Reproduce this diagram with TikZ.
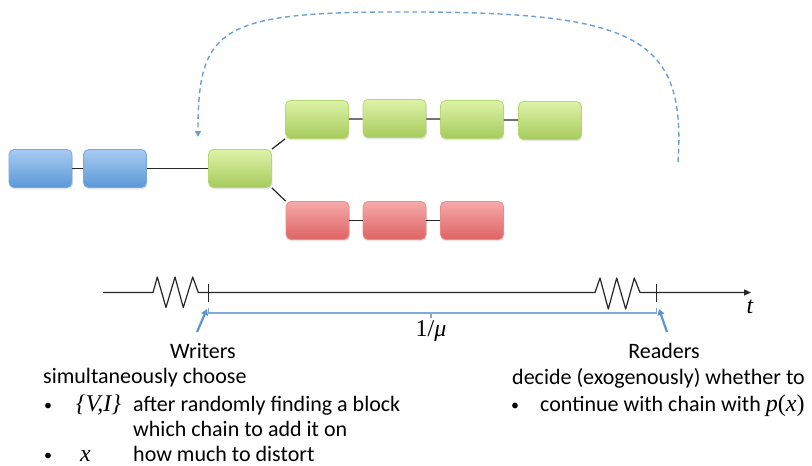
\documentclass[tikz,border=0pt]{standalone}
\usepackage{fontspec}
\setmainfont{Carlito}
\newfontfamily\mathlike{Liberation Serif}
\newcommand{\mvar}[1]{{\mathlike\itshape #1}}
\newcommand{\mbig}{\fontsize{24}{25}\selectfont}
\newcommand{\smallbullet}{{\fontsize{16}{16}\selectfont •}}
\usetikzlibrary{arrows.meta,shadows}

% block fills: top / bottom of the gradient and the rim
\definecolor{blTop}{HTML}{A8CBF2}
\definecolor{blBot}{HTML}{5B98D6}
\definecolor{blEdge}{HTML}{78A8DE}
\definecolor{grTop}{HTML}{DDF3A8}
\definecolor{grBot}{HTML}{A6CA5C}
\definecolor{grEdge}{HTML}{B8D672}
\definecolor{rdTop}{HTML}{F6AAAA}
\definecolor{rdBot}{HTML}{DE6363}
\definecolor{rdEdge}{HTML}{E88A8A}
\definecolor{loopBlue}{HTML}{6E9FD3}
\definecolor{spanBlue}{HTML}{7FAADB}
\definecolor{ptrBlue}{HTML}{5E93CF}

\begin{document}
\begin{tikzpicture}[x=1pt,y=-1pt,
  font=\fontsize{22}{25}\selectfont,
  block/.style={rounded corners=5pt, minimum width=63pt, minimum height=38pt,
    inner sep=0pt, draw=#1Edge, line width=0.8pt,
    top color=#1Top, bottom color=#1Bot,
    drop shadow={opacity=0.2, shadow xshift=0.8pt, shadow yshift=-1.8pt}},
  link/.style={draw=black!85, line width=1.2pt},
  axis/.style={draw=black!85, line width=1.2pt, line join=round},
  span/.style={draw=spanBlue, line width=1.4pt},
  pointer/.style={draw=ptrBlue, line width=2.2pt,
    -{Triangle[length=6pt,width=7pt]}},
  backloop/.style={draw=loopBlue, line width=1.4pt, dash pattern=on 5pt off 3.5pt,
    -{Triangle[length=6pt,width=6pt]}},
  txt/.style={inner sep=0pt, anchor=base west},
  ctxt/.style={inner sep=0pt, anchor=base}]

\useasboundingbox (0,0) rectangle (812,466);

% ---- blocks ----
\node[block=bl] (b1) at (40.5,168.5) {};
\node[block=bl] (b2) at (115,168.5) {};
\node[block=gr] (g0) at (240,168.5) {};
\node[block=gr] (g1) at (317,119.5) {};
\node[block=gr] (g2) at (394.5,118.5) {};
\node[block=gr] (g3) at (472,119.5) {};
\node[block=gr] (g4) at (550,120.5) {};
\node[block=rd] (r1) at (317.5,220.5) {};
\node[block=rd] (r2) at (394.5,220.5) {};
\node[block=rd] (r3) at (472,220.5) {};

% ---- chain links ----
\draw[link] (b1) -- (b2);
\draw[link] (b2) -- (g0);
\draw[link] (g0.north east) -- (g1.south west);
\draw[link] (g0.south east) -- (r1.north west);
\draw[link] (g1) -- (g2);
\draw[link] (g2) -- (g3);
\draw[link] (g3) -- (g4);
\draw[link] (r1) -- (r2);
\draw[link] (r2) -- (r3);

% ---- dashed return loop ----
\coordinate (arcR) at (678,162);
\coordinate (arcL) at (198,137);
\draw[backloop] (arcR) .. controls (686,40) and (640,13) .. (420,12)
                       .. controls (220,11) and (198,25) .. (arcL);

% ---- time axis ----
\coordinate (t0) at (103,292.5);
\coordinate (tw) at (208.3,292.5);
\coordinate (tr) at (656.7,292.5);
\coordinate (tend) at (751,292.5);
\draw[axis, -{Triangle[length=7pt,width=6pt]}] (t0) -- (153,292.5)
  -- (157.3,277) -- (166,307.5) -- (175,277) -- (183.3,307.5) -- (192.7,277)
  -- (198.3,292.5) -- (595,292.5)
  -- (600,278) -- (608.3,309) -- (616.7,278) -- (625.7,309) -- (634.3,278)
  -- (640,292.5) -- (tend);
\draw[axis] ([yshift=9pt]tw) -- ([yshift=-9pt]tw);
\draw[axis] ([yshift=9pt]tr) -- ([yshift=-9pt]tr);
\node (tlab) at (750,307) {\mbig\mvar{t}};

% ---- interval bracket ----
\coordinate (sL) at (208.3,307.5);
\coordinate (sM) at (431,313);
\coordinate (sR) at (656.7,307.5);
\draw[span] (sL) |- (sM) -| (sR);
\draw[span] (sM) -- ++(0,5);
\node (mu) at (431,331) {\mbig{\mathlike 1/}\mvar{μ}};

% ---- writers ----
\node[ctxt] (wr) at (203,358) {Writers};
\coordinate (wa) at (197,332);
\draw[pointer] (wa) -- (207,309);
\node[txt] (wchoose) at (43,383) {simultaneously choose};
\node[ctxt] (wb1) at (48,410) {\smallbullet};
\node[txt] (wvi) at (76,411.7) {\mbig\mvar{\{V,I\}}};
\node[txt] (wl1) at (133,411.7) {after randomly finding a block};
\node[txt] (wl2) at (133,436.7) {which chain to add it on};
\node[ctxt] (wb2) at (48,460) {\smallbullet};
\node[txt] (wx) at (80,461.7) {\mbig\mvar{x}};
\node[txt] (wl3) at (133,461.7) {how much to distort};

% ---- readers ----
\node[ctxt] (rd) at (664,358) {Readers};
\coordinate (ra) at (667,332);
\draw[pointer] (ra) -- (659,309);
\node[txt] (rdec) at (512,384) {decide (exogenously) whether to};
\node[ctxt] (rb1) at (515,410) {\smallbullet};
\node[txt] (rl1) at (540,411.7) {continue with chain with {\mbig\mvar{p}{\mathlike(}\mvar{x}{\mathlike)}}};

\end{tikzpicture}
\end{document}
